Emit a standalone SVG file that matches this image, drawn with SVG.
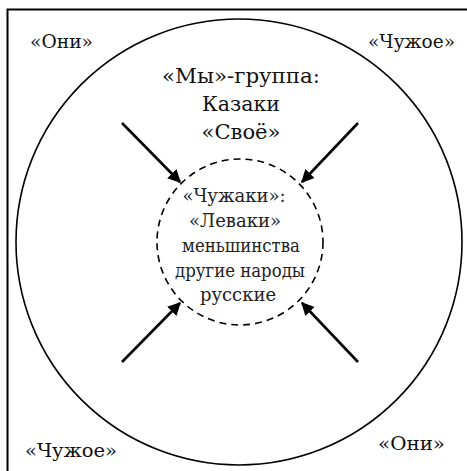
<svg xmlns="http://www.w3.org/2000/svg" width="467" height="471" viewBox="0 0 467 471">
<style>
text{font-family:"DejaVu Serif","Liberation Serif",serif;fill:#111;text-anchor:middle}
.c{font-size:19px}
.m{font-size:21px}
.i{font-size:18px;fill:#222}
.arr{stroke:#000;stroke-width:2.6;fill:none;marker-end:url(#ah)}
</style>
<defs>
<marker id="ah" viewBox="0 0 10 10" refX="9" refY="5" markerWidth="5" markerHeight="5" orient="auto" markerUnits="strokeWidth">
<path d="M0,0 L10,5 L0,10 z" fill="#000"/>
</marker>
</defs>
<rect width="467" height="471" fill="#fff"/>
<path d="M7.5,471 V9.5 H467" fill="none" stroke="#000" stroke-width="2"/>
<g id="outer">
<circle cx="239" cy="242" r="223" fill="none" stroke="#000" stroke-width="1.6"/>
<text class="m" x="241" y="83" textLength="158" lengthAdjust="spacingAndGlyphs">«Мы»-группа:</text>
<text class="m" x="241" y="111" textLength="78" lengthAdjust="spacingAndGlyphs">Казаки</text>
<text class="m" x="241" y="139" textLength="79" lengthAdjust="spacingAndGlyphs">«Своё»</text>
</g>
<g id="inner">
<circle cx="240" cy="242" r="83" fill="none" stroke="#000" stroke-width="1.6" stroke-dasharray="7,5"/>
<text class="i" x="234" y="202">«Чужаки»:</text>
<text class="i" x="235" y="227">«Леваки»</text>
<text class="i" x="241" y="252" textLength="118" lengthAdjust="spacingAndGlyphs">меньшинства</text>
<text class="i" x="240" y="277" textLength="130" lengthAdjust="spacingAndGlyphs">другие народы</text>
<text class="i" x="238" y="301">русские</text>
</g>
<g id="corner-tl"><text class="c" x="61.5" y="48" textLength="63" lengthAdjust="spacingAndGlyphs">«Они»</text></g>
<g id="corner-tr"><text class="c" x="411.5" y="48" textLength="87" lengthAdjust="spacingAndGlyphs">«Чужое»</text></g>
<g id="corner-bl"><text class="c" x="71" y="457" textLength="92" lengthAdjust="spacingAndGlyphs">«Чужое»</text></g>
<g id="corner-br"><text class="c" x="411.5" y="450" textLength="67" lengthAdjust="spacingAndGlyphs">«Они»</text></g>
<g id="connectors">
<line class="arr" x1="122" y1="123" x2="180" y2="182"/>
<line class="arr" x1="358" y1="123" x2="302" y2="182"/>
<line class="arr" x1="122" y1="362" x2="180" y2="303"/>
<line class="arr" x1="358" y1="362" x2="302" y2="303"/>
</g>
</svg>
